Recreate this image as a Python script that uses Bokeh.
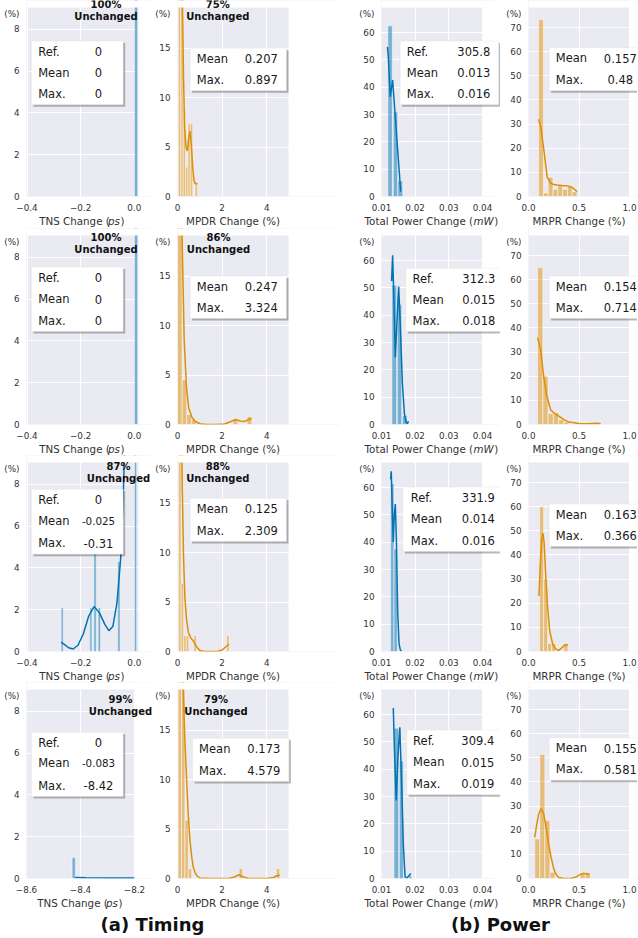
from bokeh.plotting import figure
from bokeh.models import Range1d, FixedTicker, CustomJSTickFormatter, Label, BoxAnnotation
from bokeh.layouts import column, row
from bokeh.embed import file_html
from bokeh.resources import INLINE

FONT = "DejaVu Sans"
BG = "#EAEAF2"
BLUE = "#0173B2"
ORANGE = "#DE8F05"
TEXT = "#1a1a1a"
TICK = "#333333"

# ---------------- ticks ----------------
TNS_XTICKS = [-0.4, -0.2, 0.0]
TNS4_XTICKS = [-8.6, -8.4, -8.2]
TNS_YTICKS = [0, 2, 4, 6, 8]
MPDR_XTICKS = [0, 2, 4]
MPDR_YTICKS = [0, 5, 10, 15]
PWR_XTICKS = [0.01, 0.02, 0.03, 0.04]
PWR_YTICKS = [0, 10, 20, 30, 40, 50, 60]
MRPR_XTICKS = [0.0, 0.5, 1.0]
MRPR_YTICKS = [0, 10, 20, 30, 40, 50, 60, 70]

# ---------------- legend values ----------------
UNCHANGED_TNS = ["100%", "100%", "87%", "99%"]
UNCHANGED_MPDR = ["75%", "86%", "88%", "79%"]
TNS_REF = ["0", "0", "0", "0"]
TNS_MEAN = ["0", "0", "-0.025", "-0.083"]
TNS_MAX = ["0", "0", "-0.31", "-8.42"]
MPDR_MEAN = ["0.207", "0.247", "0.125", "0.173"]
MPDR_MAX = ["0.897", "3.324", "2.309", "4.579"]
PWR_REF = ["305.8", "312.3", "331.9", "309.4"]
PWR_MEAN = ["0.013", "0.015", "0.014", "0.015"]
PWR_MAX = ["0.016", "0.018", "0.016", "0.019"]
MRPR_MEAN = ["0.157", "0.154", "0.163", "0.155"]
MRPR_MAX = ["0.48", "0.714", "0.366", "0.581"]

# ---------------- histogram bars (left, right, percent) and KDE ----------------
TNS1_LEFT = [0.0]
TNS1_RIGHT = [0.0125]
TNS1_PCT = [100.0]
TNS1_KX, TNS1_KY = [], []

TNS2_LEFT = [0.0]
TNS2_RIGHT = [0.0125]
TNS2_PCT = [100.0]
TNS2_KX, TNS2_KY = [], []

TNS3_LEFT = [-0.273, -0.166, -0.151, -0.135, -0.062, 0.0]
TNS3_RIGHT = [-0.265, -0.158, -0.142, -0.126, -0.053, 0.0086]
TNS3_PCT = [2.1, 2.1, 6.4, 2.1, 4.3, 83.0]
TNS3_KX = [-0.273, -0.26, -0.245, -0.228, -0.21, -0.19, -0.17, -0.15, -0.13, -0.11,
           -0.095, -0.08, -0.065, -0.05, -0.04, -0.03, -0.015, 0.0]
TNS3_KY = [0.45, 0.33, 0.18, 0.12, 0.3, 0.85, 1.7, 2.15, 1.85, 1.3,
           1.0, 1.2, 2.3, 4.6, 8.0, 13.0, 25.0, 35.0]

TNS4_LEFT = [-8.431]
TNS4_RIGHT = [-8.419]
TNS4_PCT = [1.0]
TNS4_KX = [-8.42, -8.38, -8.3, -8.2]
TNS4_KY = [0.05, 0.03, 0.02, 0.02]

MPDR1_LEFT = [0.040, 0.147, 0.254, 0.361, 0.468, 0.575, 0.789]
MPDR1_RIGHT = [0.147, 0.254, 0.361, 0.468, 0.575, 0.682, 0.897]
MPDR1_PCT = [45.0, 27.0, 8.9, 3.0, 7.4, 7.4, 1.45]
MPDR1_KX = [0.04, 0.1, 0.16, 0.22, 0.27, 0.32, 0.38, 0.44, 0.5, 0.56, 0.62, 0.68, 0.74, 0.8, 0.86, 0.897]
MPDR1_KY = [48, 36, 26, 19.5, 12, 7.0, 5.0, 4.6, 5.9, 6.6, 5.2, 3.0, 1.6, 1.3, 1.3, 1.3]

MPDR2_LEFT = [0.0, 0.208, 0.415, 0.623, 2.493, 3.116]
MPDR2_RIGHT = [0.208, 0.415, 0.623, 0.831, 2.701, 3.324]
MPDR2_PCT = [80.0, 4.5, 1.0, 0.5, 0.6, 0.8]
MPDR2_KX = [0.02, 0.1, 0.2, 0.3, 0.4, 0.5, 0.65, 0.8, 1.0, 1.3, 1.7, 2.1, 2.4, 2.6, 2.8, 3.0, 3.2, 3.324]
MPDR2_KY = [45, 30, 19.5, 8.5, 3.8, 1.7, 0.7, 0.3, 0.08, 0.0, 0.0, 0.05, 0.3, 0.5, 0.35, 0.3, 0.5, 0.6]

MPDR3_LEFT = [0.050, 0.163, 0.276, 0.389, 0.728, 2.196]
MPDR3_RIGHT = [0.163, 0.276, 0.389, 0.502, 0.841, 2.309]
MPDR3_PCT = [86.7, 6.9, 1.6, 1.6, 1.6, 1.6]
MPDR3_KX = [0.05, 0.10, 0.16, 0.21, 0.27, 0.33, 0.40, 0.49, 0.60, 0.70, 0.80, 0.90, 1.00,
            1.20, 1.50, 1.80, 2.00, 2.15, 2.309]
MPDR3_KY = [55, 45, 28, 17, 9.6, 5.5, 3.3, 1.9, 1.35, 1.1, 0.7, 0.35, 0.1,
            0.0, 0.0, 0.02, 0.15, 0.45, 0.75]

MPDR4_LEFT = [0.030, 0.182, 0.333, 0.485, 2.759, 4.427]
MPDR4_RIGHT = [0.182, 0.333, 0.485, 0.637, 2.911, 4.579]
MPDR4_PCT = [55.0, 36.0, 5.9, 1.0, 1.0, 1.0]
MPDR4_KX = [0.03, 0.10, 0.20, 0.26, 0.33, 0.41, 0.48, 0.56, 0.64, 0.71, 0.79, 0.86, 1.00,
            1.50, 2.30, 2.55, 2.75, 2.95, 3.20, 4.00, 4.30, 4.45, 4.579]
MPDR4_KY = [50, 38, 24, 19, 14, 9.9, 6.5, 3.8, 2.1, 1.1, 0.6, 0.3, 0.05,
            0.0, 0.0, 0.15, 0.38, 0.15, 0.0, 0.0, 0.1, 0.28, 0.33]

PWR1_LEFT = [0.0119, 0.0135, 0.01485]
PWR1_RIGHT = [0.0132, 0.0148, 0.0163]
PWR1_PCT = [62.5, 31.0, 5.7]
PWR1_KX = [0.01175, 0.0120, 0.0123, 0.0126, 0.0130, 0.0133, 0.0137, 0.0141, 0.0145, 0.0149, 0.0153, 0.0157]
PWR1_KY = [54.8, 52.0, 44.0, 36.5, 40.0, 42.6, 35.8, 29.0, 22.2, 15.4, 8.6, 1.8]

PWR2_LEFT = [0.0131, 0.0147, 0.0162, 0.0177]
PWR2_RIGHT = [0.0145, 0.0160, 0.0176, 0.0180]
PWR2_PCT = [51.0, 44.0, 3.3, 0.5]
PWR2_KX = [0.0130, 0.0133, 0.0137, 0.0141, 0.0146, 0.0151, 0.0156, 0.0162, 0.0168, 0.0173, 0.0177, 0.0180]
PWR2_KY = [52.5, 62.0, 45.0, 24.5, 38.0, 50.5, 36.0, 15.0, 4.0, 1.0, 0.3, 1.2]

PWR3_LEFT = [0.0127, 0.0137]
PWR3_RIGHT = [0.0137, 0.0147]
PWR3_PCT = [61.5, 37.5]
PWR3_KX = [0.0127, 0.0129, 0.0132, 0.0135, 0.0138, 0.0141, 0.0144, 0.0148, 0.0152, 0.0156, 0.0160]
PWR3_KY = [63, 66, 52, 40, 50, 54, 42, 15, 3, 0.5, 0.3]

PWR4_LEFT = [0.0137, 0.0153, 0.0180]
PWR4_RIGHT = [0.0151, 0.0165, 0.0190]
PWR4_PCT = [55.0, 43.0, 1.0]
PWR4_KX = [0.0135, 0.0139, 0.01437, 0.0149, 0.01544, 0.0159, 0.0165, 0.0170, 0.0175, 0.0180, 0.0187]
PWR4_KY = [62.4, 45.0, 28.6, 45.0, 55.4, 38.0, 12.0, 0.6, 0.2, 0.8, 1.8]

MRPR1_LEFT = [0.100, 0.1475, 0.195, 0.2425, 0.290, 0.3375, 0.385, 0.4325]
MRPR1_RIGHT = [0.1475, 0.195, 0.2425, 0.290, 0.3375, 0.385, 0.4325, 0.480]
MRPR1_PCT = [73.3, 1.5, 8.0, 3.0, 4.5, 3.0, 4.5, 2.0]
MRPR1_KX = [0.1, 0.12, 0.153, 0.185, 0.218, 0.25, 0.282, 0.33, 0.38, 0.42, 0.445, 0.48]
MRPR1_KY = [32, 29, 19, 8, 5.5, 5.0, 4.8, 4.6, 4.5, 4.0, 3.4, 2.0]

MRPR2_LEFT = [0.090, 0.142, 0.194, 0.246, 0.298, 0.350, 0.662]
MRPR2_RIGHT = [0.142, 0.194, 0.246, 0.298, 0.350, 0.402, 0.714]
MRPR2_PCT = [65.0, 20.0, 4.5, 5.0, 2.0, 1.0, 0.5]
MRPR2_KX = [0.09, 0.12, 0.15, 0.18, 0.22, 0.26, 0.30, 0.35, 0.40, 0.50, 0.60, 0.66, 0.714]
MRPR2_KY = [36, 31, 20, 12, 6, 4.5, 3.5, 2, 1, 0.4, 0.3, 0.5, 0.4]

MRPR3_LEFT = [0.11, 0.15, 0.19, 0.23, 0.35]
MRPR3_RIGHT = [0.15, 0.19, 0.23, 0.27, 0.39]
MRPR3_PCT = [60.0, 30.0, 3.3, 3.3, 3.3]
MRPR3_KX = [0.104, 0.115, 0.13, 0.143, 0.155, 0.17, 0.19, 0.21, 0.24, 0.27, 0.30, 0.33, 0.36, 0.39]
MRPR3_KY = [23, 35, 46, 49, 45, 32, 18, 8.5, 3, 1, 0.5, 1.5, 2.8, 2.8]

MRPR4_LEFT = [0.062, 0.112, 0.162, 0.212, 0.512, 0.562]
MRPR4_RIGHT = [0.112, 0.162, 0.212, 0.262, 0.562, 0.612]
MRPR4_PCT = [16.4, 51.4, 24.0, 2.6, 2.5, 2.5]
MRPR4_KX = [0.062, 0.08, 0.10, 0.125, 0.15, 0.175, 0.20, 0.225, 0.25, 0.275, 0.30, 0.35, 0.42, 0.47, 0.50, 0.54, 0.58, 0.60]
MRPR4_KY = [17, 22, 26.5, 29, 27, 21, 14, 8.5, 4, 1.5, 0.4, 0, 0, 0.6, 1.4, 2.1, 2.0, 1.6]

# ---------------- geometry ----------------
PLOT_H = 189
MASK_TOP = 7
BOTTOM_B = 19
COLS = [(152, 26, 112), (188, 25, 111), (160, 41, 101), (137, 28, 101)]  # canvas width, left border, plot width
COL_X0 = [0, 152, 340, 500]
STRIP_H = [13, 12, 12, 40]

CW = {' ': 0.318, '(': 0.390, ')': 0.390, '%': 0.950, '.': 0.318,
      'C': 0.698, 'D': 0.770, 'M': 0.863, 'N': 0.748, 'P': 0.603, 'R': 0.695, 'S': 0.635, 'T': 0.611,
      'W': 0.989, 'a': 0.613, 'e': 0.615, 'g': 0.635, 'h': 0.634, 'l': 0.278, 'm': 0.974, 'n': 0.634,
      'o': 0.612, 'p': 0.635, 'r': 0.411, 's': 0.521, 't': 0.392, 'w': 0.818}


def tw(s, fs):
    return sum(CW.get(ch, 0.6) for ch in s) * fs


def add_label(p, x, y, text, size, align="left", style="normal", color=TEXT):
    p.add_layout(Label(x=x, y=y, text=text, text_font=FONT, text_font_size=f"{size}px",
                       text_font_style=style, text_align=align, text_baseline="middle",
                       text_color=color))


def fmt_code(dec, special=None):
    extra = ""
    if special is not None:
        val, eps = special
        extra = f"if (Math.abs(tick - ({val!r})) < {eps!r}) {{ return '(%)'; }} "
    return extra + f"return tick.toFixed({dec}).replace('-', '\u2212');"


def panel(ci, xr, yr, xticks, yticks, xdec, left, right, pct, kx, ky, color,
          box, unchanged=None, shrink=0):
    width, bl, pw = COLS[ci]
    pw = pw - shrink
    fw = width - bl
    x_end = xr[0] + fw * (xr[1] - xr[0]) / pw
    y_end = yr[1] + MASK_TOP * (yr[1] - yr[0]) / PLOT_H
    p = figure(width=width, height=MASK_TOP + PLOT_H + BOTTOM_B,
               x_range=Range1d(xr[0], x_end), y_range=Range1d(yr[0], y_end),
               toolbar_location=None, output_backend="svg",
               min_border_left=bl, min_border_right=0, min_border_top=0, min_border_bottom=BOTTOM_B)
    p.background_fill_color = BG
    p.border_fill_color = "white"
    p.outline_line_color = None

    def X(dx):  # px from plot-area left
        return xr[0] + dx * (xr[1] - xr[0]) / pw

    def Y(dy):  # px from plot-area top
        return yr[1] - dy * (yr[1] - yr[0]) / PLOT_H

    y_unit = Y(6)
    span = yr[1] - yr[0]
    p.xaxis[0].ticker = FixedTicker(ticks=xticks)
    p.xaxis[0].formatter = CustomJSTickFormatter(code=fmt_code(xdec))
    p.yaxis[0].ticker = FixedTicker(ticks=list(yticks) + [y_unit])
    p.yaxis[0].formatter = CustomJSTickFormatter(code=fmt_code(0, (y_unit, span * 1e-4)))
    for ax in (p.xaxis[0], p.yaxis[0]):
        ax.axis_line_color = None
        ax.major_tick_line_color = None
        ax.minor_tick_line_color = None
        ax.major_tick_in = 0
        ax.major_tick_out = 0
        ax.minor_tick_in = 0
        ax.minor_tick_out = 0
        ax.major_label_text_font = FONT
        ax.major_label_text_font_size = "8.8px"
        ax.major_label_text_color = TICK
    p.xaxis.major_label_standoff = 7
    p.yaxis.major_label_standoff = 7
    p.xgrid.ticker = FixedTicker(ticks=xticks)
    p.ygrid.ticker = FixedTicker(ticks=yticks)
    p.grid.grid_line_color = "white"
    p.grid.grid_line_width = 1

    p.quad(left=left, right=right, top=pct, bottom=0, fill_color=color, fill_alpha=0.5,
           line_color="white", line_width=0.5)
    if kx:
        p.line(kx, ky, line_color=color, line_width=1.5)

    # white masks over the parts of the frame that lie outside the plot area
    p.add_layout(BoxAnnotation(left=xr[1], right=x_end, bottom=yr[0], top=y_end,
                               fill_color="white", fill_alpha=1.0, line_color=None))
    p.add_layout(BoxAnnotation(left=xr[0], right=x_end, bottom=yr[1], top=y_end,
                               fill_color="white", fill_alpha=1.0, line_color=None))

    # legend-like box
    bl_, br_, lab_x, val_x, rows_y, entries = box
    top = rows_y[0] - 10.5
    bot = rows_y[-1] + 11
    p.add_layout(BoxAnnotation(left=X(bl_ + 2), right=X(br_ + 2), top=Y(top + 2), bottom=Y(bot + 2),
                               fill_color="black", fill_alpha=0.28, line_color=None))
    p.add_layout(BoxAnnotation(left=X(bl_), right=X(br_), top=Y(top), bottom=Y(bot),
                               fill_color="white", fill_alpha=1.0, line_color="#d6d6d6", line_width=1))
    for (name, val), yy in zip(entries, rows_y):
        add_label(p, X(lab_x), Y(yy), name, 11.5)
        add_label(p, X(val_x), Y(yy), val, 10.3 if len(val) >= 6 else 11.5, align="center")

    if unchanged:
        ux, uy, txt = unchanged
        add_label(p, X(ux), Y(uy - 12), txt, 10, align="center", style="bold", color="#111111")
        add_label(p, X(ux), Y(uy), "Unchanged", 10, align="center", style="bold", color="#111111")
    return p


TNS_LBL = ("TNS Change (", "ps", ")")
MPDR_LBL = ("MPDR Change (%)", "", "")
PWR_LBL = ("Total Power Change (", "mW", ")")
MRPR_LBL = ("MRPR Change (%)", "", "")
XLABELS = [TNS_LBL, MPDR_LBL, PWR_LBL, MRPR_LBL]

TNS_DATA = [(TNS1_LEFT, TNS1_RIGHT, TNS1_PCT, TNS1_KX, TNS1_KY),
            (TNS2_LEFT, TNS2_RIGHT, TNS2_PCT, TNS2_KX, TNS2_KY),
            (TNS3_LEFT, TNS3_RIGHT, TNS3_PCT, TNS3_KX, TNS3_KY),
            (TNS4_LEFT, TNS4_RIGHT, TNS4_PCT, TNS4_KX, TNS4_KY)]
MPDR_DATA = [(MPDR1_LEFT, MPDR1_RIGHT, MPDR1_PCT, MPDR1_KX, MPDR1_KY),
             (MPDR2_LEFT, MPDR2_RIGHT, MPDR2_PCT, MPDR2_KX, MPDR2_KY),
             (MPDR3_LEFT, MPDR3_RIGHT, MPDR3_PCT, MPDR3_KX, MPDR3_KY),
             (MPDR4_LEFT, MPDR4_RIGHT, MPDR4_PCT, MPDR4_KX, MPDR4_KY)]
PWR_DATA = [(PWR1_LEFT, PWR1_RIGHT, PWR1_PCT, PWR1_KX, PWR1_KY),
            (PWR2_LEFT, PWR2_RIGHT, PWR2_PCT, PWR2_KX, PWR2_KY),
            (PWR3_LEFT, PWR3_RIGHT, PWR3_PCT, PWR3_KX, PWR3_KY),
            (PWR4_LEFT, PWR4_RIGHT, PWR4_PCT, PWR4_KX, PWR4_KY)]
MRPR_DATA = [(MRPR1_LEFT, MRPR1_RIGHT, MRPR1_PCT, MRPR1_KX, MRPR1_KY),
             (MRPR2_LEFT, MRPR2_RIGHT, MRPR2_PCT, MRPR2_KX, MRPR2_KY),
             (MRPR3_LEFT, MRPR3_RIGHT, MRPR3_PCT, MRPR3_KX, MRPR3_KY),
             (MRPR4_LEFT, MRPR4_RIGHT, MRPR4_PCT, MRPR4_KX, MRPR4_KY)]

# text placement (pixels relative to each plot area's top-left)
TNS_BOX_ROWS = [[44, 65, 86.3], [42, 63.5, 85], [37.3, 58.7, 80.7], [53.3, 73.7, 96]]
MPDR_BOX_ROWS = [[51.3, 72.3], [51, 72], [46.3, 68], [59.3, 81]]
MPDR_BOX_X = [(12.6, 19.3, 83.8), (12.6, 19.3, 83.8), (12.6, 19.3, 83.8), (15, 21.6, 86.3)]
PWR_BOX_ROWS = [[44, 65, 86.3], [43.3, 64, 85], [35, 56, 78], [51, 72.7, 94.3]]
PWR_BOX_X = [(18.6, 25.3, 92.3), (24.3, 31, 97.3), (21.3, 29.3, 96.8), (25.3, 31.6, 96.3)]
MRPR_BOX_ROWS = [[50.7, 72.3], [51, 72], [52, 73], [58.7, 79.7]]
UNCH_Y = [8.7, 14, 15.7, 21.7]
UNCH_X_TNS = [79.5, 79.5, 92, 94]
UNCH_X_MPDR = [40.3, 41, 40.3, 38.5]

blocks = []
for r in range(4):
    last = r == 3
    tl, trr, tp, tkx, tky = TNS_DATA[r]
    pa = panel(0, (-8.6, -8.2) if last else (-0.402, 0.0155), (0, 9.05),
               TNS4_XTICKS if last else TNS_XTICKS, TNS_YTICKS, 1,
               tl, trr, tp, tkx, tky, BLUE,
               (5, 96.7, 11.7, 72, TNS_BOX_ROWS[r],
                [("Ref.", TNS_REF[r]), ("Mean", TNS_MEAN[r]), ("Max.", TNS_MAX[r])]),
               unchanged=(UNCH_X_TNS[r], UNCH_Y[r], UNCHANGED_TNS[r]),
               shrink=4 if last else 0)
    ml, mr, mp, mkx, mky = MPDR_DATA[r]
    bx = MPDR_BOX_X[r]
    pb = panel(1, (0, 4.97), (0, 19.1), MPDR_XTICKS, MPDR_YTICKS, 0,
               ml, mr, mp, mkx, mky, ORANGE,
               (bx[0], bx[0] + 96.4, bx[1], bx[2], MPDR_BOX_ROWS[r],
                [("Mean", MPDR_MEAN[r]), ("Max.", MPDR_MAX[r])]),
               unchanged=(UNCH_X_MPDR[r], UNCH_Y[r], UNCHANGED_MPDR[r]))
    pl, pr, pp, pkx, pky = PWR_DATA[r]
    cx = PWR_BOX_X[r]
    pc = panel(2, (0.01, 0.04), (0, 69.2), PWR_XTICKS, PWR_YTICKS, 2,
               pl, pr, pp, pkx, pky, BLUE,
               (cx[0], cx[0] + 98.7, cx[1], cx[2], PWR_BOX_ROWS[r],
                [("Ref.", PWR_REF[r]), ("Mean", PWR_MEAN[r]), ("Max.", PWR_MAX[r])]))
    rl, rr, rp, rkx, rky = MRPR_DATA[r]
    pd = panel(3, (0, 1.0), (0, 78.3), MRPR_XTICKS, MRPR_YTICKS, 1,
               rl, rr, rp, rkx, rky, ORANGE,
               (20.6, 117.6, 27.3, 91.8, MRPR_BOX_ROWS[r],
                [("Mean", MRPR_MEAN[r]), ("Max.", MRPR_MAX[r])]))
    blocks.append(row(pa, pb, pc, pd))

    # strip under the row holding the x-axis titles (and the panel captions)
    h = STRIP_H[r]
    s = figure(width=637, height=h, x_range=Range1d(0, 637), y_range=Range1d(0, h),
               toolbar_location=None, output_backend="svg", min_border=0,
               x_axis_type=None, y_axis_type=None)
    s.outline_line_color = None
    s.background_fill_color = "white"
    s.border_fill_color = "white"
    fs = 10.3
    for ci in range(4):
        width, bl, pw = COLS[ci]
        if ci == 0 and last:
            pw -= 4
        center = COL_X0[ci] + bl + pw / 2
        parts = XLABELS[ci]
        ws = [tw(t_, fs) for t_ in parts]
        sx = center - sum(ws) / 2
        offs = [0.0, -1.8, -1.2]   # tighten the italic unit against its brackets
        for i, t_ in enumerate(parts):
            if t_:
                add_label(s, sx + sum(ws[:i]) + offs[i], h - 5, t_, fs,
                          style="italic" if i == 1 else "normal", color="#333333")
    if last:
        add_label(s, 152, h - 27, "(a) Timing", 18, align="center", style="bold", color="#111111")
        add_label(s, 500, h - 27, "(b) Power", 18, align="center", style="bold", color="#111111")
    blocks.append(s)

layout = column(*blocks)
open("out.html", "w", encoding="utf-8").write(file_html(layout, INLINE, title="chart"))
